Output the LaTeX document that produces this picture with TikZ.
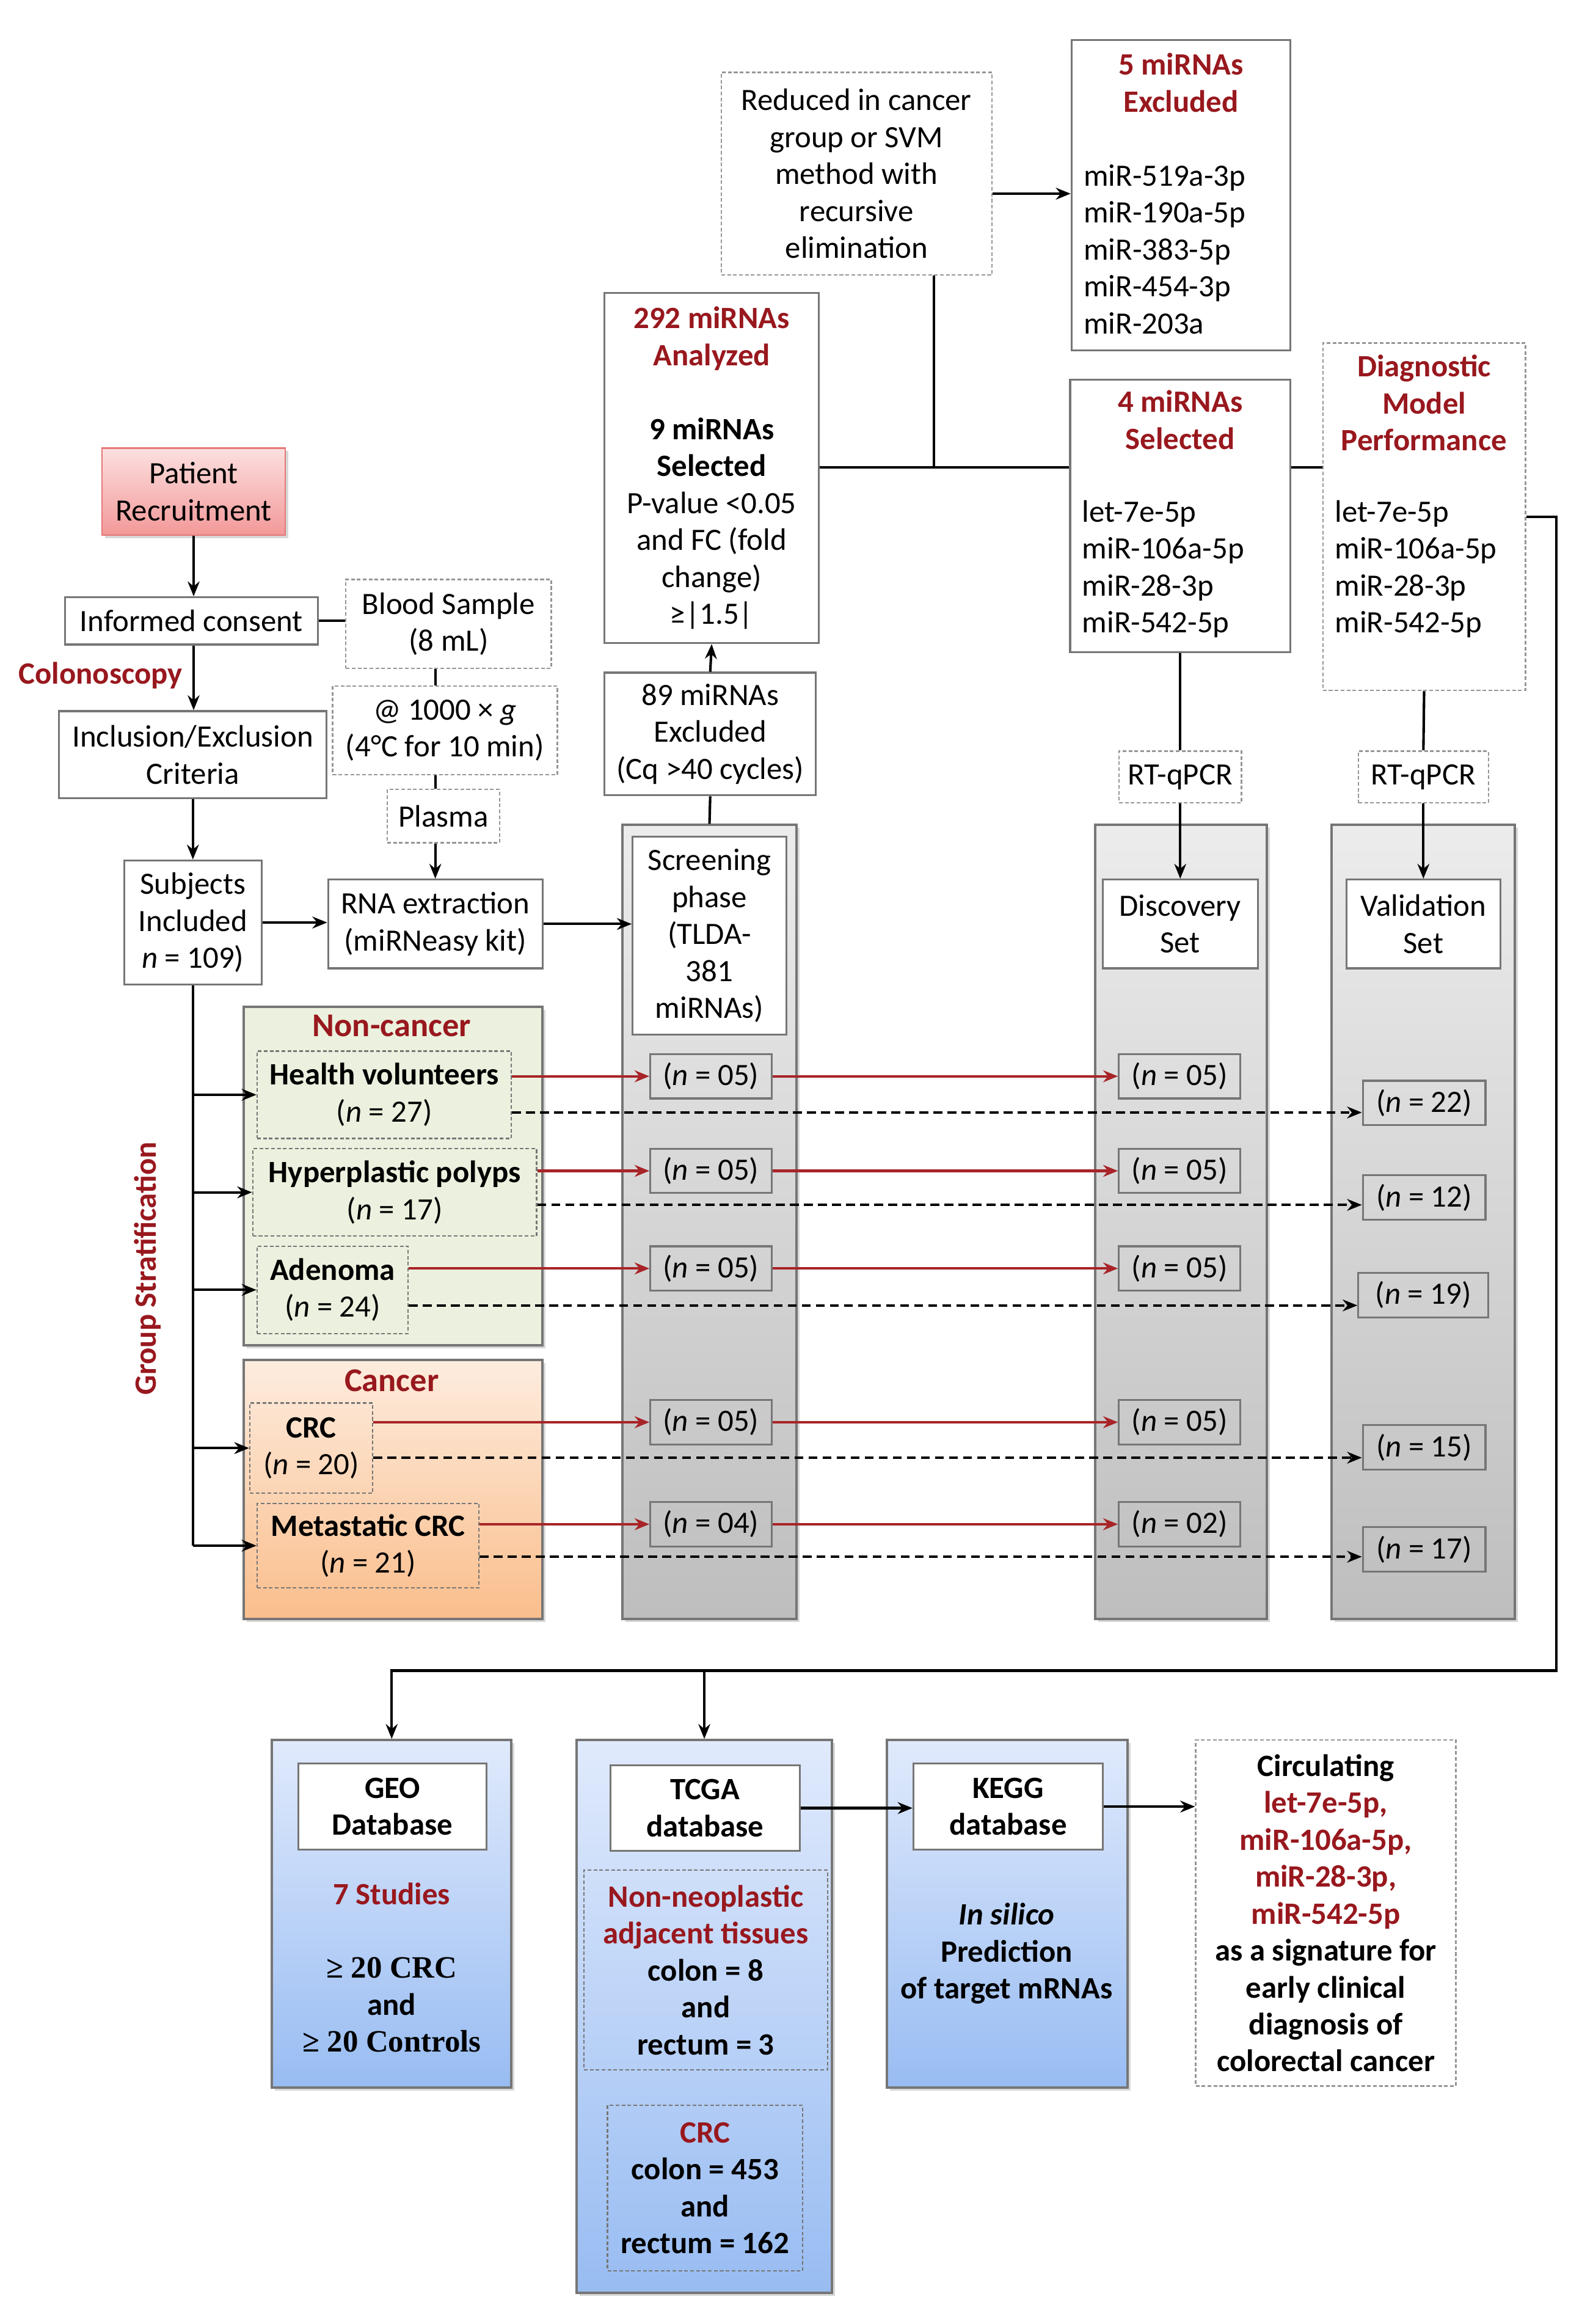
\documentclass[tikz,border=0pt]{standalone}
\usepackage{fontspec}
\setmainfont{Carlito}
\newfontfamily\cambria{Liberation Serif}
\usetikzlibrary{arrows.meta,shadows,calc}
\definecolor{dred}{RGB}{152,24,30}
\definecolor{ared}{RGB}{168,36,40}
\definecolor{bgray}{RGB}{118,118,118}
\definecolor{dgray}{RGB}{150,150,150}
\definecolor{ncgreen}{RGB}{235,241,222}
\definecolor{peachT}{RGB}{253,236,222}
\definecolor{peachB}{RGB}{250,190,140}
\definecolor{blueT}{RGB}{224,234,252}
\definecolor{blueB}{RGB}{152,188,242}
\definecolor{pinkT}{RGB}{252,224,224}
\definecolor{pinkB}{RGB}{243,152,152}
\definecolor{pinkD}{RGB}{228,120,120}
\definecolor{colT}{RGB}{236,236,236}
\definecolor{colB}{RGB}{190,190,190}
\newcommand\bx[7]{\node[#6,minimum width={(#4)-(#2)},minimum height={(#5)-(#3)}] (#1) at ({((#2)+(#4))/2},{((#3)+(#5))/2}) {#7};}
\begin{document}
\begin{tikzpicture}[x=1pt,y=-1pt,
  font=\fontsize{21}{25}\selectfont,
  box/.style={draw=bgray,line width=1.3pt,fill=white,align=center,inner sep=0pt},
  dbox/.style={draw=dgray,line width=1pt,dash pattern=on 2.5pt off 1.5pt,fill=white,align=center,inner sep=0pt},
  sub/.style={draw=bgray,line width=1pt,dash pattern=on 2.5pt off 1.5pt,align=center,inner sep=0pt},
  nbox/.style={draw=bgray,line width=1.3pt,align=center,inner sep=0pt,minimum width=82pt,minimum height=30pt},
  shad/.style={drop shadow={opacity=0.3,shadow xshift=2pt,shadow yshift=-2pt}},
  col/.style={draw=bgray,line width=1.6pt,top color=colT,bottom color=colB,shad},
  grp/.style={draw=bgray,line width=1.5pt,shad},
  bluebox/.style={draw=bgray,line width=1.6pt,top color=blueT,bottom color=blueB,shad},
  patbox/.style={draw=pinkD,line width=1.2pt,top color=pinkT,bottom color=pinkB,align=center,inner sep=0pt,shad},
  bf/.style={font=\fontsize{21}{25}\selectfont\bfseries},
  ttl/.style={text=dred,font=\fontsize{21}{25}\selectfont\bfseries,align=center,inner sep=0pt},
  txt/.style={align=center,inner sep=0pt},
  conn/.style={line width=1.7pt},
  arr/.style={conn,-{Stealth[length=10pt,width=8pt]}},
  rarr/.style={line width=1.7pt,draw=ared,-{Stealth[length=10pt,width=8pt]}},
  darr/.style={line width=1.5pt,dash pattern=on 6pt off 3.5pt,-{Stealth[length=10pt,width=8pt]}},
]
\useasboundingbox (0,0) rectangle (1070,1572);
\fill[white] (0,0) rectangle (1070,1572);

% columns
\bx{scol}{421}{558}{539}{1095}{col}{}
\bx{dcol}{741}{558}{857}{1095}{col}{}
\bx{vcol}{901}{558}{1025}{1095}{col}{}

% top
\bx{red}{488}{49}{671}{186}{dbox}{Reduced in cancer\\group or SVM\\method with\\recursive\\elimination}
\bx{ex5}{725}{27}{873}{237}{box}{}
\node[ttl] (ex5t) at (799,56) {5 miRNAs\\Excluded};
\node[txt,anchor=west,align=left] (ex5l) at (733,168.5) {miR-519a-3p\\miR-190a-5p\\miR-383-5p\\miR-454-3p\\miR-203a};
\bx{a292}{409}{198}{554}{435}{box}{\textcolor{dred}{\bfseries 292 miRNAs}\\\textcolor{dred}{\bfseries Analyzed}\\[25pt]{\bfseries 9 miRNAs}\\{\bfseries Selected}\\P-value <0.05\\and FC (fold\\change)\\≥|1.5|}
\bx{s4}{724}{257}{873}{441}{box}{}
\node[ttl] (s4t) at (798.5,284) {4 miRNAs\\Selected};
\node[txt,anchor=west,align=left] (s4l) at (732,385) {let-7e-5p\\miR-106a-5p\\miR-28-3p\\miR-542-5p};
\bx{diag}{895}{232}{1032}{467}{dbox}{}
\node[ttl] (diagt) at (963.5,272.5) {Diagnostic\\Model\\Performance};
\node[txt,anchor=west,align=left] (diagl) at (903,385) {let-7e-5p\\miR-106a-5p\\miR-28-3p\\miR-542-5p};

% left
\bx{pat}{69}{303}{193}{362}{patbox}{Patient\\Recruitment}
\bx{inf}{44}{404}{215}{436}{box}{Informed consent}
\bx{blood}{234}{392}{373}{452}{dbox}{Blood Sample\\(8 mL)}
\node[ttl] (colo) at (68,457) {Colonoscopy};
\bx{incl}{40}{481}{221}{540}{box}{Inclusion/Exclusion\\Criteria}
\bx{cent}{225}{464}{377}{524}{dbox}{@ 1000 × \textit{g}\\(4°C for 10 min)}
\bx{plas}{262}{534}{338}{570}{dbox}{Plasma}
\bx{rna}{222}{595}{367}{655}{box}{RNA extraction\\(miRNeasy kit)}
\bx{subj}{84}{582}{177}{666}{box}{Subjects\\Included\\\textit{n} = 109)}

% screening etc
\bx{ex89}{409}{455}{552}{538}{box}{89 miRNAs\\Excluded\\(Cq >40 cycles)}
\bx{scr}{428}{566}{532}{700}{box}{Screening\\phase\\(TLDA-\\381\\miRNAs)}
\bx{dset}{746}{595}{851}{655}{box}{Discovery\\Set}
\bx{vset}{911}{595}{1015}{655}{box}{Validation\\Set}
\bx{rt1}{757}{508}{840}{543}{dbox}{RT-qPCR}
\bx{rt2}{919}{508}{1007}{543}{dbox}{RT-qPCR}

% groups
\bx{ncan}{165}{681}{367}{910}{grp,fill=ncgreen}{}
\node[ttl,font=\fontsize{22.5}{26}\selectfont\bfseries] (ncant) at (265,694) {Non-cancer};
\bx{hv}{174}{711}{346}{770}{sub}{{\bfseries Health volunteers}\\(\textit{n} = 27)}
\bx{hp}{171}{777}{363}{836}{sub}{{\bfseries Hyperplastic polyps}\\(\textit{n} = 17)}
\bx{ad}{174}{843}{276}{902}{sub}{{\bfseries Adenoma}\\(\textit{n} = 24)}
\bx{can}{165}{920}{367}{1095}{grp,top color=peachT,bottom color=peachB}{}
\node[ttl,font=\fontsize{22.5}{26}\selectfont\bfseries] (cant) at (265,934) {Cancer};
\bx{crc}{169}{949}{252}{1010}{sub}{{\bfseries CRC}\\(\textit{n} = 20)}
\bx{met}{174}{1017}{324}{1074}{sub}{{\bfseries Metastatic CRC}\\(\textit{n} = 21)}
\node[ttl,rotate=90] (gs) at (100,858) {Group Stratification};

% n boxes
\node[nbox] (s1) at (481,728) {(\textit{n} = 05)};
\node[nbox] (s2) at (481,792) {(\textit{n} = 05)};
\node[nbox] (s3) at (481,858) {(\textit{n} = 05)};
\node[nbox] (s4b) at (481,962) {(\textit{n} = 05)};
\node[nbox] (s5) at (481,1031) {(\textit{n} = 04)};
\node[nbox] (d1) at (798,728) {(\textit{n} = 05)};
\node[nbox] (d2) at (798,792) {(\textit{n} = 05)};
\node[nbox] (d3) at (798,858) {(\textit{n} = 05)};
\node[nbox] (d4) at (798,962) {(\textit{n} = 05)};
\node[nbox] (d5) at (798,1031) {(\textit{n} = 02)};
\node[nbox,minimum width=83pt] (v1) at (963.5,746) {(\textit{n} = 22)};
\node[nbox,minimum width=83pt] (v2) at (963.5,810) {(\textit{n} = 12)};
\node[nbox,minimum width=88pt] (v3) at (963,876) {(\textit{n} = 19)};
\node[nbox,minimum width=83pt] (v4) at (963.5,979) {(\textit{n} = 15)};
\node[nbox,minimum width=83pt] (v5) at (963.5,1048) {(\textit{n} = 17)};

% bottom
\bx{geo}{184}{1177}{346}{1412}{bluebox}{}
\bx{geoin}{202}{1193}{329}{1251}{box,bf}{GEO\\Database}
\node[txt] (geos) at (265,1281) {\textcolor{dred}{\bfseries 7 Studies}};
\node[txt] (geoc) at (265,1356) {{\cambria\bfseries ≥ 20 CRC}\\{\bfseries and}\\{\cambria\bfseries ≥ 20 Controls}};
\bx{tcga}{390}{1177}{563}{1551}{bluebox}{}
\bx{tcgain}{413}{1194}{541}{1252}{box,bf}{TCGA\\database}
\bx{nn}{395}{1265}{560}{1400}{sub,bf}{\textcolor{dred}{Non-neoplastic}\\\textcolor{dred}{adjacent tissues}\\colon = 8\\and\\rectum = 3}
\bx{crc2}{411}{1424}{543}{1536}{sub,bf}{\textcolor{dred}{CRC}\\colon = 453\\and\\rectum = 162}
\bx{kegg}{600}{1177}{763}{1412}{bluebox}{}
\bx{keggin}{618}{1193}{746}{1251}{box,bf}{KEGG\\database}
\node[txt,bf] (kt) at (681,1321.5) {\textit{In silico}\\Prediction\\of target mRNAs};
\bx{circ}{809}{1177}{985}{1411}{dbox,bf}{Circulating\\\textcolor{dred}{let-7e-5p,}\\\textcolor{dred}{miR-106a-5p,}\\\textcolor{dred}{miR-28-3p,}\\\textcolor{dred}{miR-542-5p}\\as a signature for\\early clinical\\diagnosis of\\colorectal cancer}

% connectors top
\coordinate (K) at (671,131);
\coordinate (J) at (632,316);
\draw[arr] (red.east |- K) -- (ex5.west |- K);
\draw[conn] (red.south -| J) -- (J);
\draw[conn] (a292.east |- J) -- (s4.west |- J);
\draw[conn] (s4.east |- J) -- (diag.west |- J);
\draw[arr] (ex89.north) -- (a292.south);
\draw[conn] (scol.north) -- (ex89.south);
\draw[conn] (s4.south) -- (rt1.north);
\draw[arr] (rt1.south) -- (dset.north);
\draw[conn] (diag.south) -- (rt2.north);
\draw[arr] (rt2.south) -- (vset.north);

% connectors left
\draw[arr] (pat.south) -- (pat.south |- inf.north);
\draw[conn] (inf.east) -- (inf.east -| blood.west);
\draw[arr] (pat.south |- inf.south) -- (pat.south |- incl.north);
\draw[conn] (rna.north |- blood.south) -- (rna.north |- cent.north);
\draw[conn] (rna.north |- cent.south) -- (rna.north |- plas.north);
\draw[arr] (rna.north |- plas.south) -- (rna.north);
\draw[arr] (subj.north |- incl.south) -- (subj.north);
\draw[arr] (subj.east) -- (subj.east -| rna.west);
\draw[arr] (rna.east) -- (rna.east -| scr.west);

% stratification trunk
\draw[conn] (subj.south) -- (subj.south |- met.west);
\draw[arr] (subj.south |- hv.west) -- (hv.west);
\draw[arr] (subj.south |- hp.west) -- (hp.west);
\draw[arr] (subj.south |- ad.west) -- (ad.west);
\draw[arr] (subj.south |- crc.west) -- (crc.west);
\draw[arr] (subj.south |- met.west) -- (met.west);

% red arrows
\draw[rarr] (hv.east |- s1) -- (s1.west);
\draw[rarr] (hp.east |- s2) -- (s2.west);
\draw[rarr] (ad.east |- s3) -- (s3.west);
\draw[rarr] (crc.east |- s4b) -- (s4b.west);
\draw[rarr] (met.east |- s5) -- (s5.west);
\draw[rarr] (s1.east) -- (d1.west);
\draw[rarr] (s2.east) -- (d2.west);
\draw[rarr] (s3.east) -- (d3.west);
\draw[rarr] (s4b.east) -- (d4.west);
\draw[rarr] (s5.east) -- (d5.west);

% dashed arrows
\path ($(hv.east)+(0,12)$) coordinate (q1);
\path ($(hp.east)+(0,8.5)$) coordinate (q2);
\path ($(ad.east)+(0,10.5)$) coordinate (q3);
\path ($(crc.east)+(0,6.5)$) coordinate (q4);
\path ($(met.east)+(0,7.5)$) coordinate (q5);
\draw[darr] (q1) -- (q1 -| v1.west);
\draw[darr] (q2) -- (q2 -| v2.west);
\draw[darr] (q3) -- (q3 -| v3.west);
\draw[darr] (q4) -- (q4 -| v4.west);
\draw[darr] (q5) -- (q5 -| v5.west);

% right loop to bottom
\coordinate (c2) at (1053,1130);
\draw[arr] (diag.east) -| (c2) -| (geo.north);
\draw[arr] (tcga.north |- c2) -- (tcga.north);
\draw[arr] (tcgain.east) -- (tcgain.east -| keggin.west);
\draw[arr] (keggin.east) -- (keggin.east -| circ.west);
\end{tikzpicture}
\end{document}
